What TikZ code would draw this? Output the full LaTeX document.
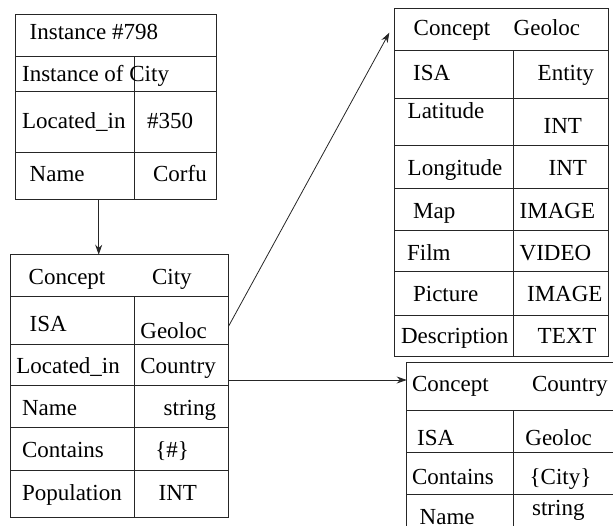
\documentclass[tikz,border=0pt]{standalone}
\usepackage{fontspec}
\setmainfont{Liberation Serif}
\usetikzlibrary{arrows.meta, positioning}

\begin{document}
\begin{tikzpicture}[x=1pt, y=-1pt, line width=0.8pt, draw=black!85,
            >={Stealth[length=10pt, width=7pt]}]
        \tikzstyle{tbl}=[draw, rectangle, inner sep=0pt, outer sep=0pt]
        \tikzstyle{txt}=[inner sep=0pt, anchor=base west, font=\fontsize{23}{27}\selectfont]
        \useasboundingbox (0,0) rectangle (613,525);

        % instance box
        \node[tbl, minimum width=201.2pt, minimum height=185.3pt] (inst) at (116.1,106.65) {};
        \foreach \y in {56,91,152.7}
            \draw (inst.west |- 0,\y) -- (inst.east |- 0,\y);
        \draw (134.3,56) -- (inst.south -| 134.3,0);
        \node[txt] (iTitle) at (29.3,39.3) {Instance \#798};
        \node[txt] (iOf) at (21.7,81) {Instance of City};
        \node[txt] (iLoc) at (21.7,128) {Located\_in};
        \node[txt] (iLocV) at (146.7,128) {\#350};
        \node[txt] (iName) at (29.3,181.7) {Name};
        \node[txt] (iNameV) at (152.7,181.7) {Corfu};

        % concept city
        \node[tbl, minimum width=218.7pt, minimum height=262.6pt] (city) at (119.35,386) {};
        \foreach \y in {296,344.3,385.7,427.7,470}
            \draw (city.west |- 0,\y) -- (city.east |- 0,\y);
        \draw (134.7,296) -- (city.south -| 134.7,0);
        \node[txt] (cTitle) at (28.3,284.3) {Concept};
        \node[txt] (cTitleV) at (151.7,284.3) {City};
        \node[txt] (cIsa) at (29.3,331.7) {ISA};
        \node[txt] (cIsaV) at (140,338.3) {Geoloc};
        \node[txt] (cLoc) at (16,373.3) {Located\_in};
        \node[txt] (cLocV) at (140,373.3) {Country};
        \node[txt] (cName) at (21.7,415.7) {Name};
        \node[txt] (cNameV) at (163.3,415.7) {string};
        \node[txt] (cCont) at (21.7,457.3) {Contains};
        \node[txt] (cContV) at (155,457.3) {\{\#\}};
        \node[txt] (cPop) at (21.7,500) {Population};
        \node[txt] (cPopV) at (158.3,500) {INT};

        % concept geoloc
        \node[tbl, minimum width=214pt, minimum height=347.3pt] (geo) at (501.7,182.35) {};
        \foreach \y in {50,98.3,145.7,188.3,230,271.7,315}
            \draw (geo.west |- 0,\y) -- (geo.east |- 0,\y);
        \draw (513.3,50) -- (geo.south -| 513.3,0);
        \node[txt] (gTitle) at (413.3,35) {Concept};
        \node[txt] (gTitleV) at (513.3,35) {Geoloc};
        \node[txt] (gIsa) at (412.7,80) {ISA};
        \node[txt] (gIsaV) at (537.3,80) {Entity};
        \node[txt] (gLat) at (407.3,118.3) {Latitude};
        \node[txt] (gLatV) at (543.3,133.3) {INT};
        \node[txt] (gLon) at (407.3,175) {Longitude};
        \node[txt] (gLonV) at (548.3,175) {INT};
        \node[txt] (gMap) at (412.7,218.3) {Map};
        \node[txt] (gMapV) at (519.3,218.3) {IMAGE};
        \node[txt] (gFilm) at (406.7,260) {Film};
        \node[txt] (gFilmV) at (519.3,260) {VIDEO};
        \node[txt] (gPic) at (412.7,301.7) {Picture};
        \node[txt] (gPicV) at (526.7,301.7) {IMAGE};
        \node[txt] (gDesc) at (400.7,343.3) {Description};
        \node[txt] (gDescV) at (537.3,343.3) {TEXT};

        % concept country
        \node[tbl, minimum width=209.3pt, minimum height=167.3pt] (country) at (511.35,446.35) {};
        \foreach \y in {410,452.3,494}
            \draw (country.west |- 0,\y) -- (country.east |- 0,\y);
        \draw (513.3,410) -- (country.south -| 513.3,0);
        \node[txt] (kTitle) at (411.7,391.7) {Concept};
        \node[txt] (kTitleV) at (531.7,391.7) {Country};
        \node[txt] (kIsa) at (416.7,445) {ISA};
        \node[txt] (kIsaV) at (525,445) {Geoloc};
        \node[txt] (kCont) at (411.7,484) {Contains};
        \node[txt] (kContV) at (529.3,484) {\{City\}};
        \node[txt] (kName) at (419.3,524) {Name};
        \node[txt] (kNameV) at (531.7,515) {string};

        % links
        \draw[->] ([xshift=83.2pt]inst.south west) -- ([xshift=88.7pt]city.north west);
        \draw[->] (city.east |- 0,326) -- ([xshift=-5.4pt, yshift=-24pt]geo.north west);
        \draw[->] (city.east |- 0,380) -- (country.west |- 0,380);
    \end{tikzpicture}
\end{document}
